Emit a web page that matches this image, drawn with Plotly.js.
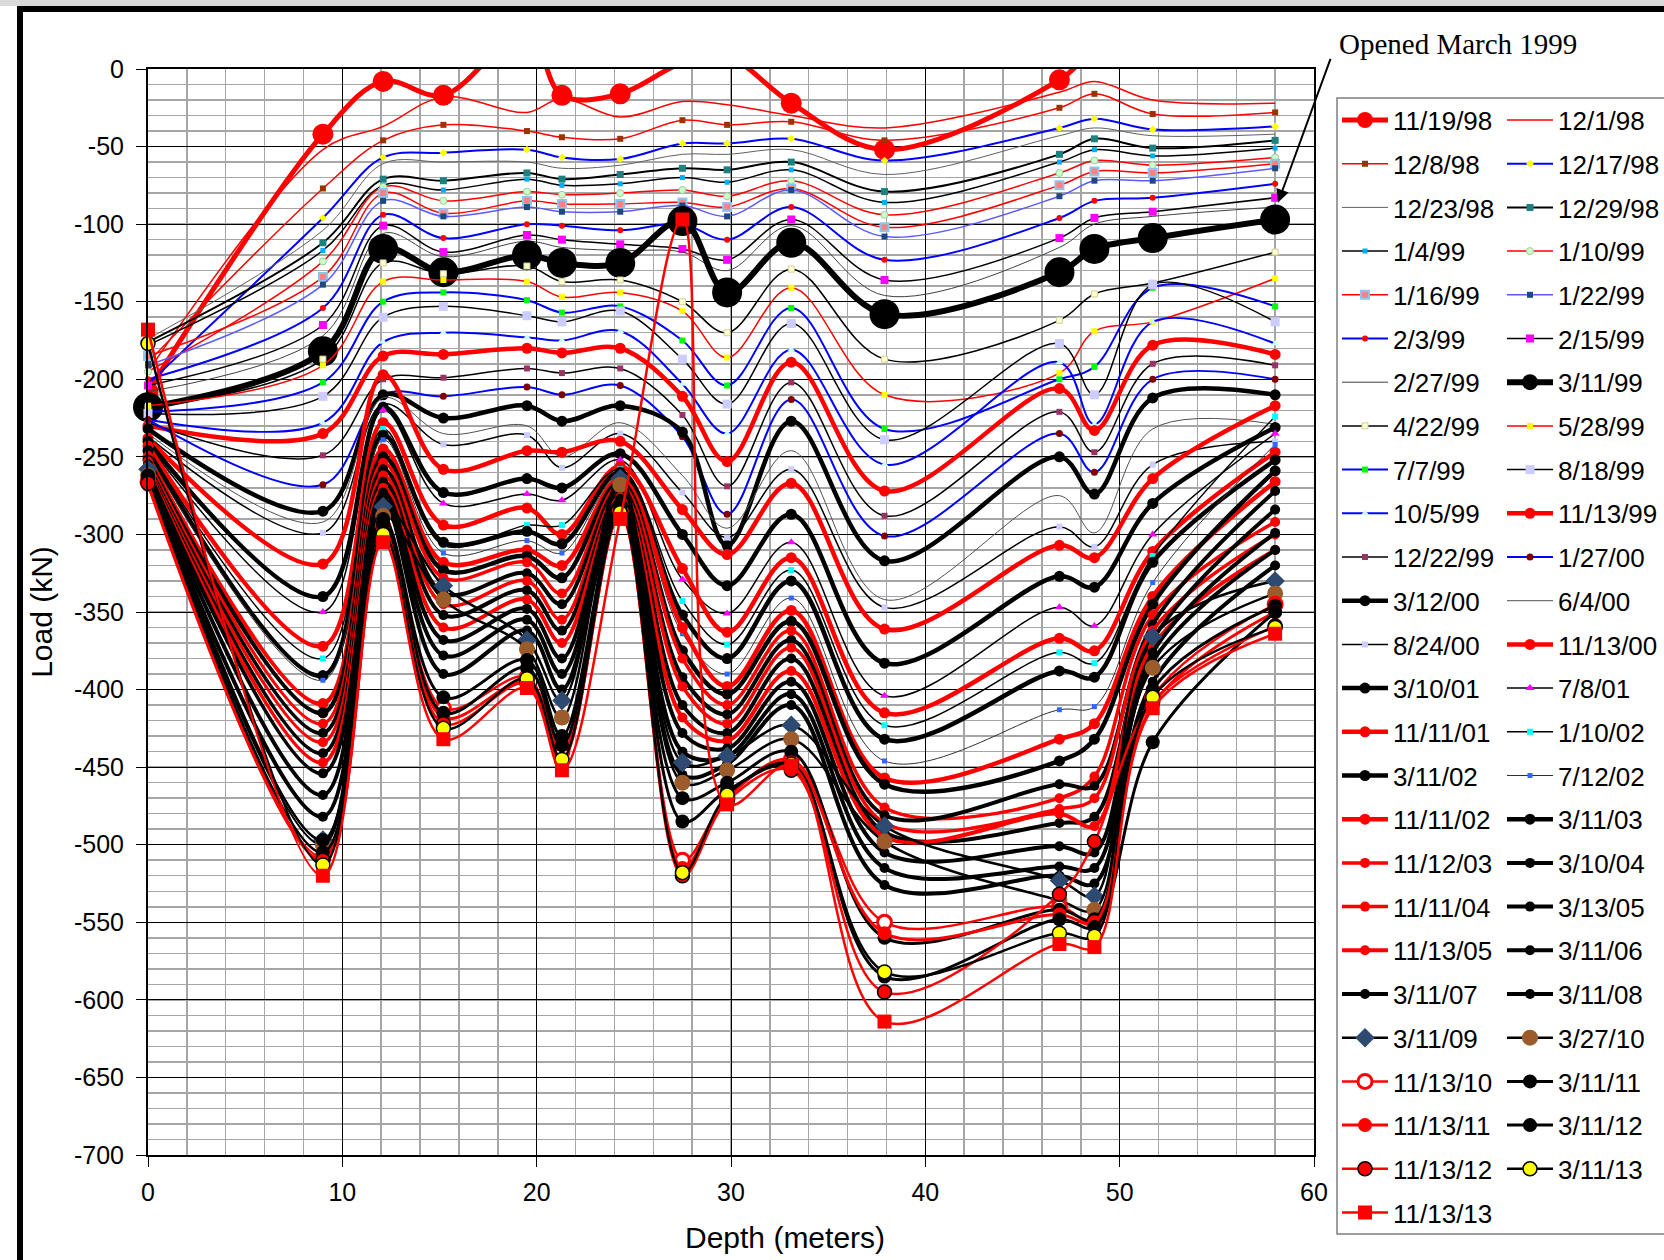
<!DOCTYPE html>
<html><head><meta charset="utf-8">
<script src="https://cdn.plot.ly/plotly-3.0.1.min.js"></script>
<style>html,body{margin:0;padding:0;background:#fff}#chart{width:1664px;height:1260px}</style>
</head><body><div id="chart"></div>
<script>
// ---------------- DATA ----------------
const depth = [0, 9, 12.1, 15.2, 19.5, 21.3, 24.3, 27.5, 29.8, 33.1, 37.9, 46.9, 48.7, 51.7, 58];

const dates = ['11/19/98','12/1/98','12/8/98','12/17/98','12/23/98','12/29/98','1/4/99','1/10/99',
  '1/16/99','1/22/99','2/3/99','2/15/99','2/27/99','3/11/99','4/22/99','5/28/99','7/7/99','8/18/99',
  '10/5/99','11/13/99','12/22/99','1/27/00','3/12/00','6/4/00','8/24/00','11/13/00','3/10/01','7/8/01',
  '11/11/01','1/10/02','3/11/02','7/12/02','11/11/02','3/11/03','11/12/03','3/10/04','11/11/04','3/13/05',
  '11/13/05','3/11/06','3/11/07','3/11/08','3/11/09','3/27/10','11/13/10','3/11/11','11/13/11','3/11/12',
  '11/13/12','3/11/13','11/13/13'];

const v111998 = [-208, -42, -8, -17, 25, -17, -16, 4, 8, -22, -52, -7, 12, 25, 25];
const v120198 = [-195, -52, -37, -18, -28, -19, -31, -21, -23, -30, -38, -15, -8, -20, -22];
const v120898 = [-189, -77, -46, -36, -40, -44, -45, -33, -36, -34, -46, -25, -16, -29, -28];
const v121798 = [-203, -96, -57, -54, -52, -57, -58, -48, -48, -45, -59, -38, -32, -39, -37];
const v122398 = [-174, -104, -61, -60, -60, -64, -62, -55, -55, -52, -68, -43, -38, -43, -42];
const v122998 = [-176, -112, -71, -72, -67, -71, -68, -64, -65, -60, -79, -55, -45, -51, -46];
const v010499 = [-178, -117, -75, -78, -71, -75, -74, -70, -73, -65, -86, -60, -52, -56, -51];
const v011099 = [-195, -124, -76, -85, -79, -81, -80, -78, -82, -72, -94, -67, -59, -62, -57];
const v011699 = [-185, -134, -80, -93, -85, -87, -87, -86, -89, -77, -102, -75, -66, -67, -61];
const v012299 = [-191, -139, -85, -95, -89, -92, -92, -88, -95, -78, -108, -82, -72, -72, -64];
const v020399 = [-200, -154, -94, -109, -100, -101, -104, -100, -110, -89, -123, -96, -85, -83, -74];
const v021599 = [-204, -165, -101, -118, -107, -110, -113, -116, -123, -97, -136, -109, -96, -92, -83];
const v022799 = [-208, -172, -106, -121, -111, -115, -117, -118, -130, -101, -146, -115, -100, -95, -89];
const v031199 = [-218, -182, -116, -131, -120, -125, -125, -98, -144, -112, -158, -131, -116, -109, -97];
const v042299 = [-218, -187, -125, -132, -127, -137, -136, -150, -170, -129, -187, -162, -145, -138, -118];
const v052899 = [-217, -191, -137, -136, -137, -147, -144, -156, -186, -141, -210, -196, -169, -163, -135];
const v070799 = [-221, -202, -150, -144, -149, -157, -153, -175, -204, -154, -232, -200, -192, -141, -153];
const v081899 = [-222, -211, -160, -153, -159, -163, -156, -187, -216, -164, -239, -177, -210, -139, -163];
const v100599 = [-226, -228, -176, -170, -173, -175, -169, -203, -235, -181, -255, -189, -229, -163, -177];
const v111399 = [-230, -235, -185, -184, -180, -183, -180, -211, -253, -189, -272, -206, -233, -178, -184];
const v122299 = [-228, -249, -200, -199, -193, -196, -193, -223, -269, -202, -288, -221, -247, -190, -191];
const v012700 = [-226, -268, -210, -211, -205, -210, -204, -237, -287, -213, -301, -235, -260, -200, -200];
const v031200 = [-232, -285, -210, -225, -217, -227, -217, -234, -307, -227, -317, -250, -274, -212, -210];
const v060400 = [-235, -292, -212, -235, -230, -250, -228, -262, -296, -246, -342, -275, -299, -232, -229];
const v082400 = [-237, -299, -216, -242, -236, -257, -235, -273, -302, -258, -347, -295, -308, -255, -240];
const v111300 = [-238, -319, -197, -258, -246, -247, -240, -284, -313, -267, -361, -307, -315, -264, -217];
const v031001 = [-240, -340, -218, -273, -264, -270, -248, -300, -333, -287, -383, -327, -334, -280, -231];
const v070801 = [-242, -350, -220, -280, -274, -278, -252, -329, -351, -305, -404, -347, -359, -300, -235];
const v111101 = [-243, -372, -228, -294, -283, -300, -256, -322, -363, -315, -415, -367, -375, -311, -247];
const v011002 = [-245, -380, -232, -307, -294, -294, -258, -343, -371, -323, -423, -376, -383, -314, -224];
const v031102 = [-246, -391, -236, -305, -298, -306, -260, -352, -380, -330, -432, -388, -392, -318, -252];
const v071202 = [-248, -394, -239, -312, -304, -312, -262, -364, -390, -341, -446, -413, -411, -331, -242];
const v111102 = [-250, -409, -245, -318, -310, -320, -264, -360, -398, -349, -457, -432, -422, -340, -266];
const v031103 = [-252, -415, -250, -323, -314, -328, -266, -375, -403, -356, -461, -446, -432, -345, -259];
const v111203 = [-253, -422, -254, -328, -318, -338, -268, -380, -410, -362, -476, -470, -456, -352, -292];
const v031004 = [-255, -428, -258, -338, -325, -345, -270, -392, -416, -368, -481, -461, -462, -358, -272];
const v111104 = [-256, -434, -262, -345, -330, -355, -272, -398, -422, -373, -486, -477, -470, -362, -300];
const v031305 = [-257, -441, -266, -352, -336, -362, -274, -410, -428, -380, -492, -486, -482, -368, -284];
const v111305 = [-258, -447, -270, -360, -342, -370, -276, -418, -433, -388, -495, -480, -488, -372, -310];
const v031106 = [-259, -454, -273, -368, -348, -380, -277, -428, -438, -395, -505, -501, -505, -376, -299];
const v031107 = [-260, -468, -277, -378, -355, -390, -279, -440, -443, -403, -515, -514, -515, -382, -310];
const v031108 = [-262, -482, -280, -390, -362, -400, -281, -455, -448, -410, -526, -520, -525, -395, -320];
const v031109 = [-258, -497, -282, -333, -368, -407, -264, -447, -443, -423, -488, -523, -533, -366, -330];
const v032710 = [-262, -500, -288, -342, -374, -418, -268, -460, -452, -432, -498, -536, -542, -386, -338];
const v111310 = [-266, -508, -295, -412, -392, -440, -285, -510, -470, -445, -550, -540, -550, -405, -345];
const v031111 = [-262, -497, -290, -405, -381, -430, -282, -470, -460, -440, -560, -542, -548, -400, -346];
const v111311 = [-268, -510, -297, -418, -395, -445, -287, -515, -470, -447, -557, -545, -550, -410, -350];
const v031112 = [-264, -505, -293, -415, -386, -436, -284, -485, -465, -450, -585, -548, -553, -434, -350];
const v111312 = [-267, -510, -300, -422, -396, -446, -288, -520, -472, -452, -595, -532, -498, -408, -359];
const v031113 = [-177, -513, -300, -425, -393, -445, -286, -518, -468, -448, -582, -557, -559, -405, -360];
const v111313 = [-168, -520, -305, -432, -399, -452, -290, -97, -474, -449, -614, -564, -566, -412, -364];

const yTickVals = [0, -50, -100, -150, -200, -250, -300, -350, -400, -450, -500, -550, -600, -650, -700];
const yTickText = ['0', '-50', '-100', '-150', '-200', '-250', '-300', '-350', '-400', '-450', '-500', '-550', '-600', '-650', '-700'];
const xTickVals = [0, 10, 20, 30, 40, 50, 60];
const xTickText = ['0', '10', '20', '30', '40', '50', '60'];
const xTitle = 'Depth (meters)';
const yTitle = 'Load (kN)';
const noteText = 'Opened March 1999';

const seriesValues = [v111998, v120198, v120898, v121798, v122398, v122998, v010499, v011099, v011699,
  v012299, v020399, v021599, v022799, v031199, v042299, v052899, v070799, v081899, v100599, v111399,
  v122299, v012700, v031200, v060400, v082400, v111300, v031001, v070801, v111101, v011002, v031102,
  v071202, v111102, v031103, v111203, v031004, v111104, v031305, v111305, v031106, v031107, v031108,
  v031109, v032710, v111310, v031111, v111311, v031112, v111312, v031113, v111313];

// ---------------- STYLES ----------------
const R = '#FF0000', K = '#000000', B = '#0000FF';
const styles = [
  {c:R, w:5, s:'circle', ms:21, mc:R},
  {c:R, w:1.5},
  {c:R, w:1.5, s:'square', ms:6, mc:'#993300'},
  {c:B, w:2, s:'diamond', ms:6, mc:'#FFFF00'},
  {c:'#606060', w:1},
  {c:K, w:2, s:'square', ms:7, mc:'#1F8080'},
  {c:K, w:1.5, s:'square', ms:5, mc:'#00B0F0'},
  {c:R, w:1.5, s:'circle', ms:7, mc:'#CCFFCC', ml:'#99CC99', mlw:1},
  {c:R, w:1.5, s:'square', ms:8, mc:'#FF8080', ml:'#8CC6F0', mlw:2},
  {c:'#5A5AFF', w:1.5, s:'square', ms:6, mc:'#1F497D'},
  {c:B, w:2, s:'circle', ms:6, mc:R},
  {c:K, w:1.5, s:'square', ms:8, mc:'#FF00FF'},
  {c:'#404040', w:1},
  {c:K, w:6, s:'circle', ms:30, mc:K},
  {c:K, w:1.5, s:'square', ms:6, mc:'#FFFFCC', ml:'#D0D0A0', mlw:1},
  {c:R, w:1.5, s:'square', ms:6, mc:'#FFFF00'},
  {c:B, w:2, s:'square', ms:6, mc:'#00FF00'},
  {c:K, w:1.5, s:'square', ms:9, mc:'#CCCCFF'},
  {c:B, w:2, s:'triangle-up', ms:7, mc:'#CCFFFF'},
  {c:R, w:4.5, s:'circle', ms:11, mc:R},
  {c:K, w:1.5, s:'square', ms:6, mc:'#993366'},
  {c:B, w:2, s:'circle', ms:7, mc:'#800000'},
  {c:K, w:4.5, s:'circle', ms:11, mc:K},
  {c:'#505050', w:1},
  {c:K, w:1.5, s:'square', ms:6, mc:'#CCCCFF'},
  {c:R, w:4.5, s:'circle', ms:11, mc:R},
  {c:K, w:4.5, s:'circle', ms:11, mc:K},
  {c:K, w:1.5, s:'triangle-up', ms:8, mc:'#FF00FF'},
  {c:R, w:4.5, s:'circle', ms:11, mc:R},
  {c:K, w:1.5, s:'square', ms:6, mc:'#00FFFF'},
  {c:K, w:4.5, s:'circle', ms:11, mc:K},
  {c:'#303030', w:1, s:'square', ms:5, mc:'#3366FF'},
  {c:R, w:4.5, s:'circle', ms:11, mc:R},
  {c:K, w:4.5, s:'circle', ms:11, mc:K},
  {c:R, w:3.5, s:'circle', ms:10, mc:R},
  {c:K, w:4, s:'circle', ms:10, mc:K},
  {c:R, w:3.5, s:'circle', ms:10, mc:R},
  {c:K, w:4, s:'circle', ms:10, mc:K},
  {c:R, w:4, s:'circle', ms:10, mc:R},
  {c:K, w:4, s:'circle', ms:10, mc:K},
  {c:K, w:4, s:'circle', ms:10, mc:K},
  {c:K, w:4, s:'circle', ms:10, mc:K},
  {c:K, w:2.5, s:'diamond', ms:15, mc:'#2E4A70'},
  {c:K, w:2.5, s:'circle', ms:16, mc:'#9C5B2A'},
  {c:R, w:2.5, s:'circle', ms:14, mc:'#FFFFFF', ml:R, mlw:3},
  {c:K, w:3, s:'circle', ms:14, mc:K},
  {c:R, w:3, s:'circle', ms:14, mc:R},
  {c:K, w:3, s:'circle', ms:14, mc:K},
  {c:R, w:2.5, s:'circle', ms:14, mc:R, ml:K, mlw:1.5},
  {c:K, w:2.5, s:'circle', ms:14, mc:'#FFFF00', ml:K, mlw:1.5},
  {c:R, w:2.5, s:'square', ms:14, mc:R}
];

// ---------------- LAYOUT GEOMETRY ----------------
const W = 1664, H = 1260;
const M = {l:148, r:350, t:69, b:105};
const PW = W - M.l - M.r, PH = H - M.t - M.b;
const px2x = px => (px - M.l) / PW;
const py2y = py => (H - M.b - py) / PH;
const FONT = 'Liberation Sans, Arial, sans-serif';

const LEG_FONT = 26;
const rowH = 43.7, firstRow = 120;
const itemH = LEG_FONT * 1.3 + 3;
const legTop = r => py2y(firstRow + r * rowH - (itemH / 2 + 5));
const colX = [px2x(1337), px2x(1502)];
const legendIds = ['legend', 'legend2', 'legend3', 'legend4'];

const traces = dates.map((name, i) => {
  const st = styles[i];
  const row = Math.floor(i / 2), col = i % 2;
  const half = row < 13 ? 0 : 1;
  const t = {
    type: 'scatter', x: depth, y: seriesValues[i], name: name,
    mode: st.s ? 'lines+markers' : 'lines',
    line: {color: st.c, width: st.w, shape: 'spline', smoothing: 1},
    cliponaxis: i === 0,
    legend: legendIds[half * 2 + col],
    legendgroup: 'g' + i,
    hoverinfo: 'skip'
  };
  if (st.s) t.marker = {symbol: st.s, size: st.ms, color: st.mc,
    line: {color: st.ml || st.mc, width: st.mlw || 0}};
  return t;
});

function mkLegend(col, half) {
  return {
    x: colX[col], y: legTop(half * 13), xanchor: 'left', yanchor: 'top',
    bgcolor: 'rgba(0,0,0,0)', borderwidth: 0,
    font: {family: FONT, size: LEG_FONT, color: '#000'},
    traceorder: 'grouped', tracegroupgap: rowH - itemH, itemwidth: 46, itemsizing: 'trace'
  };
}

const layout = {
  width: W, height: H,
  margin: {l: M.l, r: M.r, t: M.t, b: M.b, autoexpand: false},
  paper_bgcolor: '#FFFFFF', plot_bgcolor: '#FFFFFF',
  font: {family: FONT, color: '#000'},
  showlegend: true,
  legend: mkLegend(0, 0), legend2: mkLegend(1, 0),
  legend3: mkLegend(0, 1), legend4: mkLegend(1, 1),
  xaxis: {
    range: [0, 60], tickmode: 'array', tickvals: xTickVals, ticktext: xTickText,
    ticks: 'outside', ticklen: 10, tickwidth: 1, tickcolor: '#000', ticklabelstandoff: 4,
    showgrid: true, gridcolor: '#000', gridwidth: 1, zeroline: false,
    minor: {tickmode: 'linear', tick0: 0, dtick: 2, showgrid: true, gridcolor: '#A6A6A6', gridwidth: 1.5},
    showline: true, mirror: true, linecolor: '#000', linewidth: 2,
    tickfont: {family: FONT, size: 25, color: '#000'}
  },
  yaxis: {
    range: [-700, 0], tickmode: 'array', tickvals: yTickVals, ticktext: yTickText,
    ticks: 'outside', ticklen: 10, tickwidth: 1, tickcolor: '#000', ticklabelstandoff: 7,
    showgrid: true, gridcolor: '#000', gridwidth: 1, zeroline: false,
    minor: {tickmode: 'linear', tick0: 0, dtick: 10, showgrid: true, gridcolor: '#A6A6A6', gridwidth: 1.5},
    showline: true, mirror: true, linecolor: '#000', linewidth: 2,
    tickfont: {family: FONT, size: 25, color: '#000'},
    title: {text: yTitle, font: {family: FONT, size: 30, color: '#000'}, standoff: 12}
  },
  shapes: [
    {type: 'rect', xref: 'paper', yref: 'paper', x0: px2x(-5), x1: px2x(W + 5), y0: py2y(6), y1: py2y(-5),
      fillcolor: '#D9D9D9', line: {width: 0}, layer: 'above'},
    {type: 'rect', xref: 'paper', yref: 'paper', x0: px2x(17), x1: px2x(W + 5), y0: py2y(12), y1: py2y(6),
      fillcolor: '#000', line: {width: 0}, layer: 'above'},
    {type: 'rect', xref: 'paper', yref: 'paper', x0: px2x(17), x1: px2x(23), y0: py2y(H + 5), y1: py2y(6),
      fillcolor: '#000', line: {width: 0}, layer: 'above'},
    {type: 'rect', xref: 'paper', yref: 'paper', x0: px2x(1337), x1: px2x(W + 20), y0: py2y(1234), y1: py2y(98),
      fillcolor: 'rgba(0,0,0,0)', line: {color: '#7F7F7F', width: 1.5}, layer: 'above'}
  ],
  annotations: [
    {xref: 'paper', yref: 'paper', x: px2x(785), y: py2y(1237), xanchor: 'center', yanchor: 'middle',
      text: xTitle, showarrow: false, font: {family: FONT, size: 30, color: '#000'}},
    {xref: 'paper', yref: 'paper', x: px2x(1337), y: py2y(44), xanchor: 'left', yanchor: 'middle',
      text: noteText, showarrow: false,
      font: {family: 'Liberation Serif, Times New Roman, serif', size: 29, color: '#000'}},
    {xref: 'x', yref: 'y', x: 58.15, y: -86, ax: 53, ay: -145, axref: 'pixel', ayref: 'pixel',
      text: '', showarrow: true, arrowhead: 2, arrowsize: 1.3, arrowwidth: 2, arrowcolor: '#000',
      font: {size: 1}}
  ]
};

Plotly.newPlot('chart', traces, layout, {staticPlot: true, displayModeBar: false});
</script>
</body></html>
